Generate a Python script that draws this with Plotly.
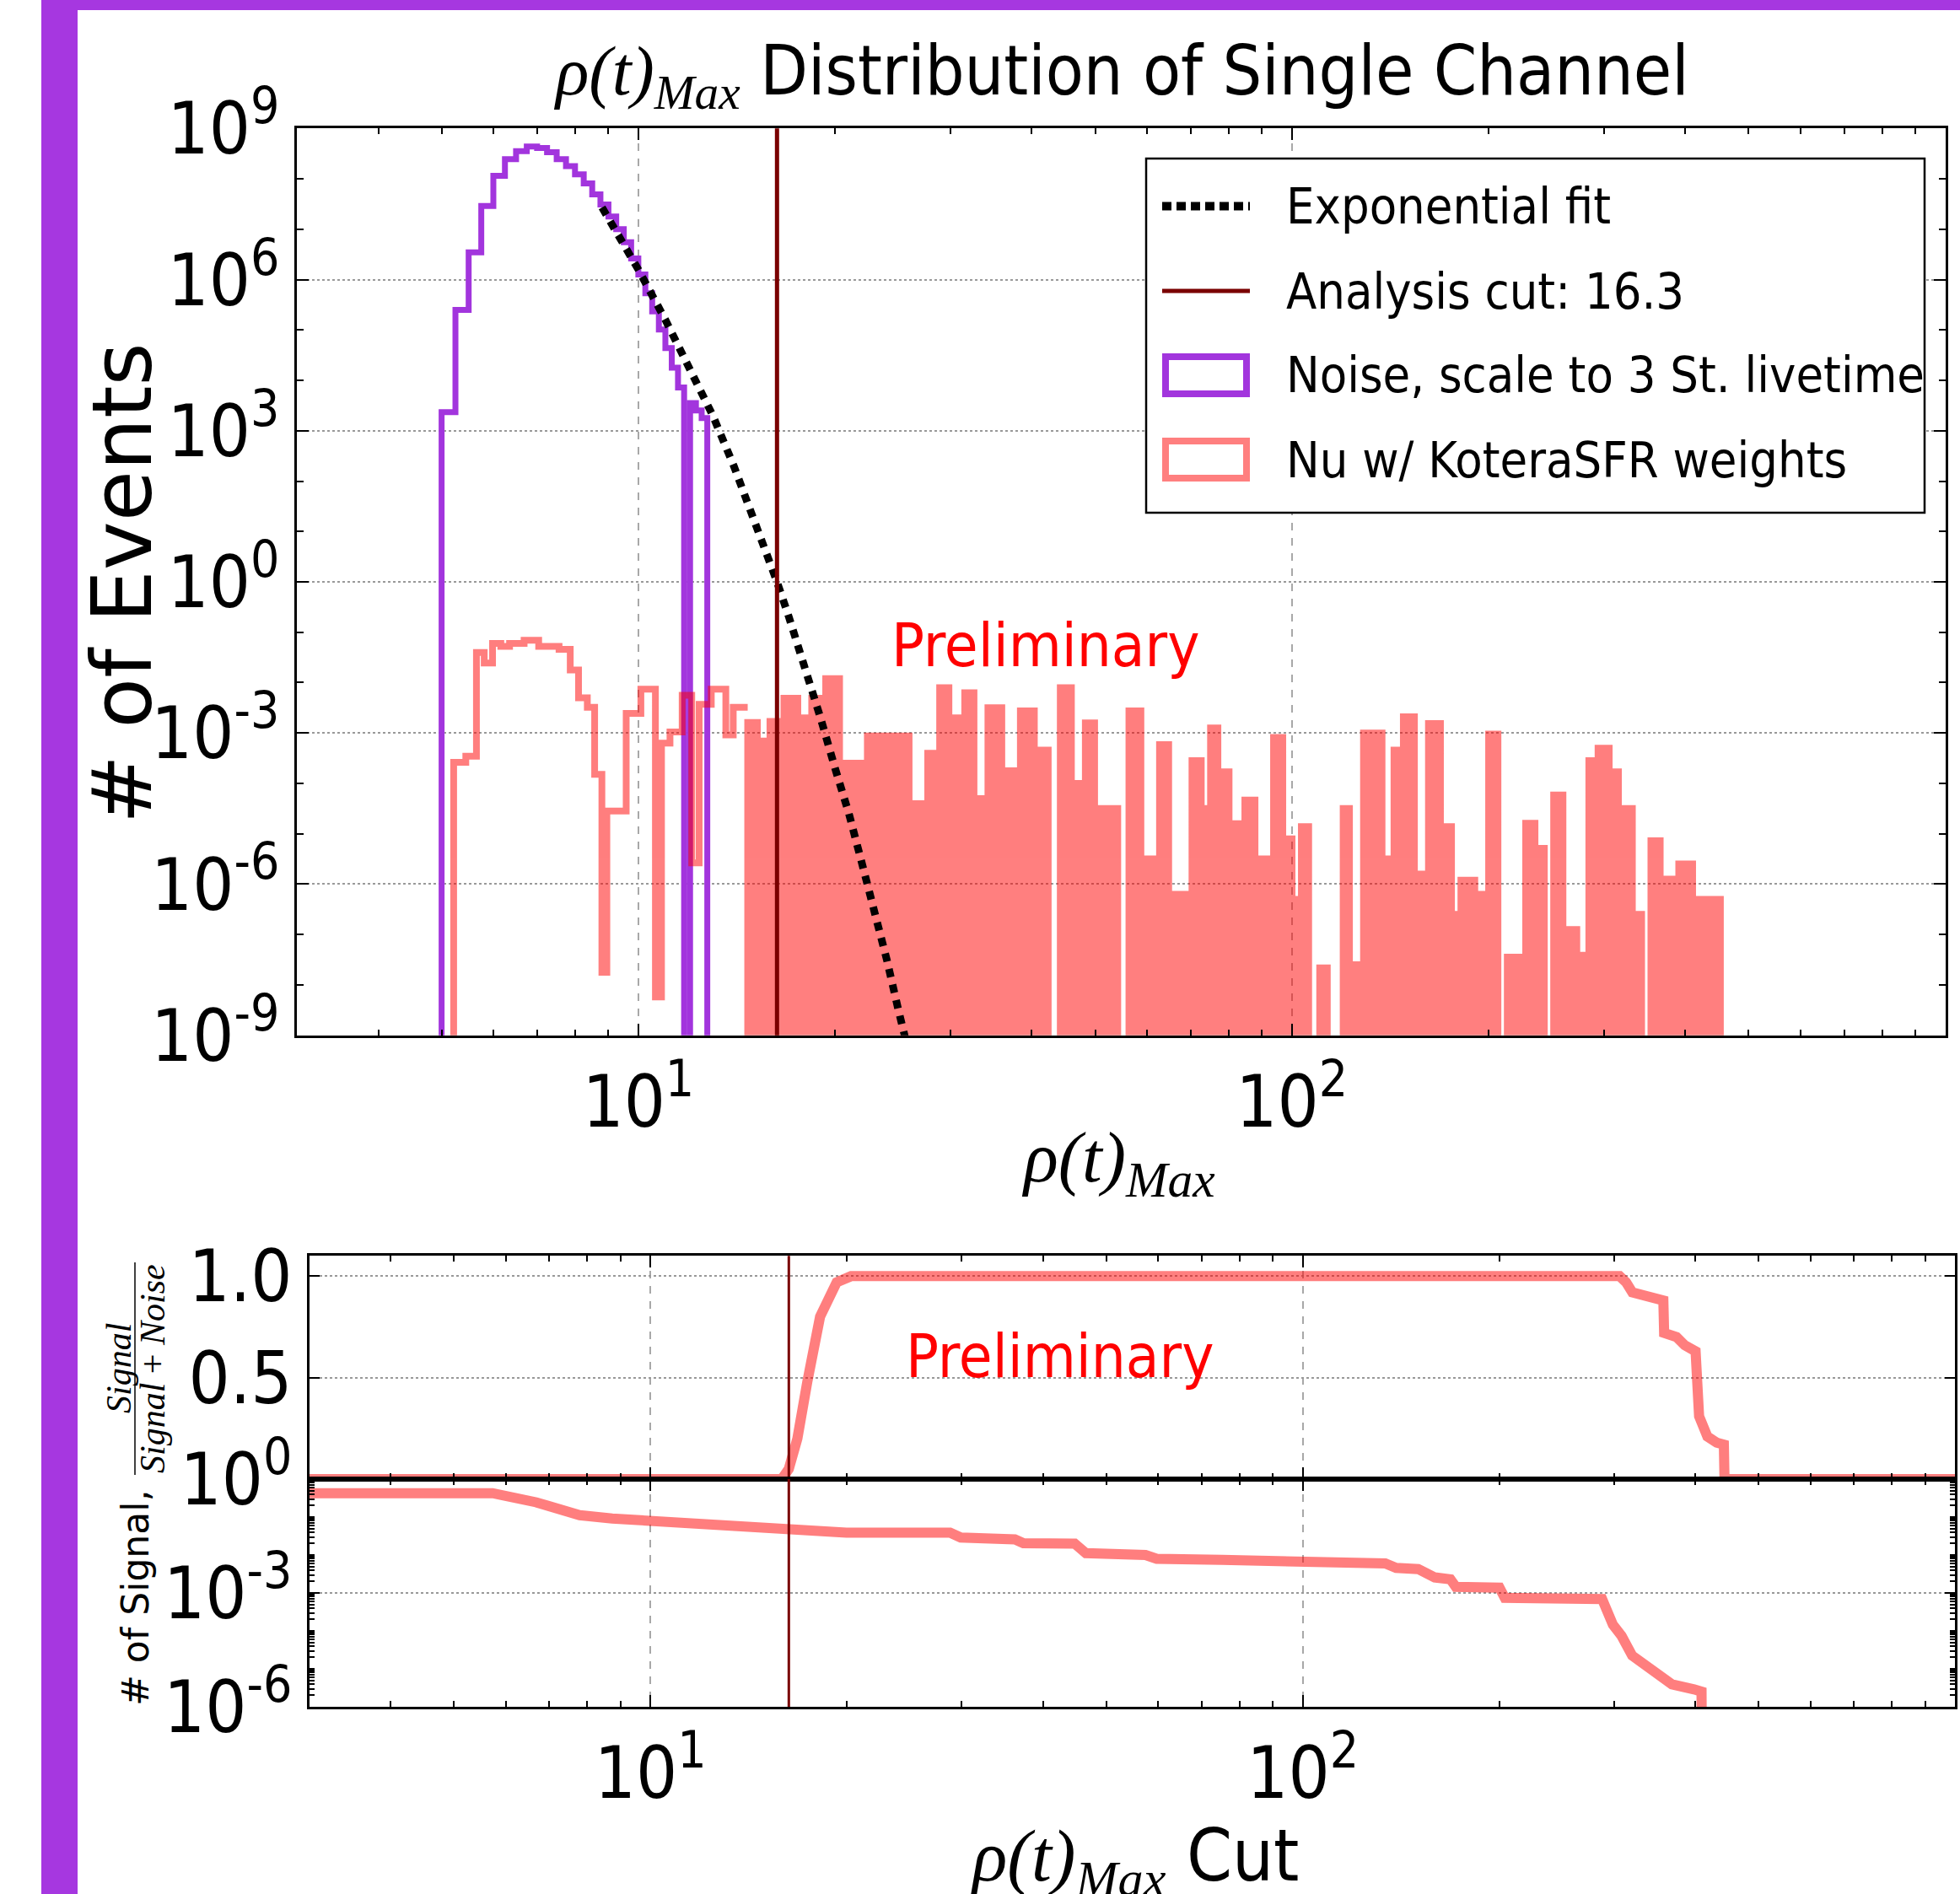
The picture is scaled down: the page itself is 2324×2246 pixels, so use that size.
import plotly.graph_objects as go
import math

W, H = 2324, 2246
SANS = "DejaVu Sans Condensed, Liberation Sans Narrow, DejaVu Sans"
SANS_N = "DejaVu Sans"
SERIF = "Liberation Serif, DejaVu Serif"
PURPLE = "#a235dd"
FRAME = "#a637e0"
CUTC = "#7a0000"
FLOOR = -12

CUT = 16.3

# ---- noise histogram (purple), bin edges and log10 counts
noise_edges = [5.0, 5.25, 5.5, 5.75, 6.0, 6.25, 6.5, 6.75, 7.0, 7.25, 7.5, 7.75, 8.0, 8.25,
               8.5, 8.75, 9.0, 9.25, 9.5, 9.75, 10.0, 10.25, 10.5, 10.75, 11.0, 11.25,
               11.5, 11.75, 12.0, 12.25, 12.5, 12.75]
noise_log = [3.37, 5.40, 6.54, 7.46, 8.06, 8.39, 8.55, 8.64, 8.61, 8.53, 8.39, 8.25, 8.09,
             7.91, 7.69, 7.49, 7.25, 7.00, 6.74, 6.42, 6.10, 5.73, 5.37, 5.01, 4.64, 4.25,
             3.86, None, 3.55, 3.40, 3.25]

# ---- neutrino histogram (red), low part (outline)
nuA_edges = [5.217, 5.445, 5.653, 5.810, 5.983, 6.160, 6.353, 6.687, 7.039, 7.563, 7.867,
             8.10, 8.355, 8.573, 8.795, 8.95, 9.101, 9.581, 10.09, 10.62, 10.85, 11.18,
             11.67, 12.07, 12.39, 12.93, 13.61, 13.97, 14.70]
nuA_log = [-3.58, -3.46, -1.40, -1.61, -1.22, -1.28, -1.22, -1.16, -1.28, -1.34, -1.75,
           -2.3, -2.49, -3.82, -7.75, -4.55, -4.55, -2.61, -2.13, -8.24, -3.2, -2.98,
           -2.25, -5.58, -2.43, -2.13, -3.04, -2.49]

# ---- neutrino histogram (red), dense part
nuB_edges = [14.70, 15.21, 15.9, 16.7, 17.54, 18.42, 19.35, 20.32, 22.41, 25.96, 27.72,
             28.91, 29.87, 31.58, 32.63, 34.27, 35.99, 38.42, 40.36, 42.38, 44.22, 45.99,
             48.3, 49.91, 54.15, 56.32, 58.75, 61.71, 62.73, 64.79, 70.33, 72.67, 75.08,
             77.06, 80.15, 84.18, 84.73, 87.82, 92.83, 93.74, 96.85, 100.07, 103.4, 106.1,
             110.3, 113.3, 119.8, 122.5, 128.7, 137.4, 143.3, 148.1, 154.0, 161.8, 168.8,
             175.5, 181.4, 190.5, 200.0, 206.7, 213.6, 227.9, 235.5, 243.4, 251.5, 259.9,
             272.9, 284.7, 294.1, 305.9, 316.0, 331.9, 342.9, 354.3, 366.1, 381.9, 390.8,
             410.4, 431.0, 452.6]
nuB_log = [-2.79, -3.16, -2.77, -2.31, -2.7, -2.31, -1.92, -3.6, -3.06, -4.4, -3.4, -2.1,
           -2.7, -2.2, -4.3, -2.5, -3.75, -2.56, -3.34, None, -2.1, -4.0, -2.8, -4.5, None,
           -2.56, -5.5, None, -3.23, -6.2, -3.55, -4.5, -2.9, -3.77, -4.8, None, -4.33,
           -5.5, None, -3.09, -5.1, -6.3, -4.86, None, -7.66, None, -4.5, -7.6, -3.0,
           -5.5, -3.34, -2.68, -5.8, -2.81, -4.86, -6.6, -5.92, -6.2, -3.02, None, -7.45,
           -4.79, -5.29, None, -4.23, -6.9, -7.41, -3.55, -3.3, -3.77, -4.5, -6.6, None,
           -5.14, -5.9, None, -5.6, -6.3, -6.3]

# ---- exponential fit
fit_x = [8.8, 10, 11, 12, 13, 14, 15, 16.3, 17, 18, 19, 20, 21, 22, 23, 24, 25, 26]
fit_log = [7.43, 6.2, 5.2, 4.25, 3.3, 2.3, 1.3, 0.0, -0.7, -1.7, -2.7, -3.7, -4.6, -5.6,
           -6.5, -7.5, -8.5, -9.4]

# ---- lower panels
sn_x = [3, 15.9, 16.3, 16.8, 17.4, 18.2, 19.3, 20.3, 306, 313, 320, 335, 357, 358, 374,
        385, 400, 405, 417, 431, 442, 443, 1000]
sn_y = [0, 0, 0.05, 0.2, 0.48, 0.8, 0.97, 1.0, 1.0, 0.97, 0.92, 0.90, 0.88, 0.72, 0.70,
        0.66, 0.63, 0.31, 0.21, 0.18, 0.17, 0, 0]

ns_x = [3.0, 5.73, 6.68, 7.79, 8.74, 11.44, 16.17, 19.97, 28.8, 29.9, 36.2, 37.3, 44.7,
        46.5, 57.4, 59.7, 75.2, 133.8, 139, 150.3, 159.3, 168.4, 171.6, 200.2, 204, 287.6,
        298.8, 308, 319.8, 334.6, 354.4, 368, 397.8, 408.5, 409]
ns_log = [-0.37, -0.37, -0.61, -0.95, -1.04, -1.16, -1.30, -1.41, -1.41, -1.54, -1.59,
          -1.69, -1.70, -1.95, -2.0, -2.10, -2.13, -2.22, -2.34, -2.37, -2.59, -2.64, -2.84,
          -2.86, -3.13, -3.16, -3.84, -4.13, -4.65, -4.91, -5.24, -5.41, -5.54, -5.6, -7]

x_ticks = [10, 100, 1000]
x_ticktext = ["10<sup>1</sup>", "10<sup>2</sup>", "10<sup>3</sup>"]
y_ticks_top = [-9, -6, -3, 0, 3, 6, 9]
y_ticks_low = [-6, -3, 0]
sn_ticks = [0.5, 1.0]


def step_xy(edges, logs, start_floor=True, end_floor=True):
    xs, ys = [], []
    if start_floor:
        xs.append(edges[0]); ys.append(10 ** FLOOR)
    for e, h in zip(edges[:-1], logs):
        xs.append(e); ys.append(10 ** (FLOOR if h is None else h))
    xs.append(edges[-1]); ys.append(ys[-1])
    if end_floor:
        xs.append(edges[-1]); ys.append(10 ** FLOOR)
    return xs, ys


assert len(noise_edges) == len(noise_log) + 1
assert len(nuA_edges) == len(nuA_log) + 1
assert len(nuB_edges) == len(nuB_log) + 1

fig = go.Figure()

nx, ny = step_xy(noise_edges, noise_log)
fig.add_trace(go.Scatter(x=nx, y=ny, mode="lines", line=dict(color=PURPLE, width=7, shape="hv"),
                         xaxis="x", yaxis="y", showlegend=False, hoverinfo="skip"))
ax_, ay_ = step_xy(nuA_edges, nuA_log, end_floor=False)
fig.add_trace(go.Scatter(x=ax_, y=ay_, mode="lines", line=dict(color="red", width=8, shape="hv"),
                         opacity=0.5, xaxis="x", yaxis="y", showlegend=False, hoverinfo="skip"))
bx_, by_ = step_xy(nuB_edges, nuB_log)
fig.add_trace(go.Scatter(x=bx_, y=by_, mode="lines", line=dict(color="red", width=8, shape="hv"),
                         fill="toself", fillcolor="red",
                         opacity=0.5, xaxis="x", yaxis="y", showlegend=False, hoverinfo="skip"))
fig.add_trace(go.Scatter(x=fit_x, y=[10 ** v for v in fit_log], mode="lines",
                         line=dict(color="black", width=9, dash="10px,9px"),
                         xaxis="x", yaxis="y", showlegend=False, hoverinfo="skip"))
fig.add_trace(go.Scatter(x=[CUT, CUT], y=[1e-12, 1e12], mode="lines",
                         line=dict(color=CUTC, width=5),
                         xaxis="x", yaxis="y", showlegend=False, hoverinfo="skip"))

fig.add_trace(go.Scatter(x=sn_x, y=sn_y, mode="lines", line=dict(color="red", width=12),
                         opacity=0.5, xaxis="x2", yaxis="y2", showlegend=False, hoverinfo="skip"))
fig.add_trace(go.Scatter(x=[CUT, CUT], y=[-1, 2], mode="lines", line=dict(color=CUTC, width=3),
                         xaxis="x2", yaxis="y2", showlegend=False, hoverinfo="skip"))
fig.add_trace(go.Scatter(x=ns_x, y=[10 ** v for v in ns_log], mode="lines",
                         line=dict(color="red", width=12),
                         opacity=0.5, xaxis="x3", yaxis="y3", showlegend=False, hoverinfo="skip"))
fig.add_trace(go.Scatter(x=[CUT, CUT], y=[1e-9, 10], mode="lines", line=dict(color=CUTC, width=3),
                         xaxis="x3", yaxis="y3", showlegend=False, hoverinfo="skip"))


def px(x):
    return x / W


def py(y):
    return 1 - y / H


def sup(n):
    return "10<sup>%d</sup>" % n


common = dict(showline=True, linecolor="black", linewidth=3, mirror="allticks",
              ticks="inside", tickcolor="black", tickwidth=2, zeroline=False, automargin=False,
              tickfont=dict(family=SANS, size=86, color="black"))
xcommon = dict(common, type="log", range=[math.log10(3), 3], tickmode="array",
               tickvals=x_ticks, ticktext=x_ticktext, ticklen=14,
               showgrid=True, gridcolor="#a8a8a8", gridwidth=1.5, griddash="dash",
               minor=dict(ticks="inside", ticklen=7, tickwidth=1.5, tickcolor="black",
                          dtick="D1", showgrid=False))

fig.update_layout(
    width=W, height=H, margin=dict(l=0, r=0, t=0, b=0, autoexpand=False),
    paper_bgcolor="white", plot_bgcolor="white",
    xaxis=dict(xcommon, domain=[px(351.7), px(2306.7)], anchor="y", ticklabelstandoff=2),
    yaxis=dict(common, type="log", range=[-9, 9], domain=[py(1227.7), py(152.3)], anchor="x",
               tickmode="array", tickvals=[10.0 ** v for v in y_ticks_top],
               ticktext=[sup(v) for v in y_ticks_top], ticklen=14, ticklabelstandoff=0,
               showgrid=True, gridcolor="#999999", gridwidth=2, griddash="dot",
               minor=dict(ticks="inside", ticklen=8, tickwidth=1.5, tickcolor="black",
                          dtick=1, showgrid=False)),
    xaxis2=dict(xcommon, domain=[px(366.7), px(2318.3)], anchor="y2", showticklabels=False),
    yaxis2=dict(common, type="linear", range=[0, 1.1], domain=[py(1754), py(1489.3)],
                anchor="x2", tickmode="array", tickvals=sn_ticks, ticktext=["0.5", "1.0"],
                ticklen=12, ticklabelstandoff=0,
                showgrid=True, gridcolor="#999999", gridwidth=2, griddash="dot"),
    xaxis3=dict(xcommon, domain=[px(366.7), px(2318.3)], anchor="y3", ticklabelstandoff=2),
    yaxis3=dict(common, type="log", range=[-6, 0], domain=[py(2024), py(1754)], anchor="x3",
                tickmode="array", tickvals=[10.0 ** v for v in y_ticks_low],
                ticktext=[sup(v) for v in y_ticks_low], ticklen=12, ticklabelstandoff=0,
                showgrid=True, gridcolor="#999999", gridwidth=2, griddash="dot",
                minor=dict(ticks="inside", ticklen=6, tickwidth=1.5, tickcolor="black",
                           dtick="D1", showgrid=False)),
)

RHO = "<i>ρ(t)</i><sub><i>Max</i></sub>"
ann = []


def add_ann(x, y, text, size, family=SANS, color="black", angle=0, xanchor="center"):
    ann.append(dict(x=px(x), y=py(y), xref="paper", yref="paper", showarrow=False,
                    xanchor=xanchor, yanchor="middle", text=text, textangle=angle,
                    font=dict(family=family, size=size, color=color)))


add_ann(1329, 89, '<span style="font-family:Liberation Serif">' + RHO + '</span> Distribution of Single Channel', 82)
add_ann(145, 692, "# of Events", 98, family=SANS_N, angle=-90)
add_ann(1326, 1378, RHO, 85, family=SERIF)
add_ann(1345, 2205, '<span style="font-family:Liberation Serif">' + RHO + '</span> Cut', 86)
add_ann(1239, 765, "Preliminary", 72, color="red")
add_ann(1256, 1608, "Preliminary", 72, color="red")
add_ann(160, 1895, "# of Signal,", 44, family=SANS_N, angle=-90)
add_ann(141, 1623, "<i>Signal</i>", 42, family=SERIF, angle=-90)
add_ann(181, 1623, "<i>Signal</i> + <i>Noise</i>", 42, family=SERIF, angle=-90)

legend_rows = [("Exponential fit", 244.5), ("Analysis cut: 16.3", 345),
               ("Noise, scale to 3 St. livetime", 444.6), ("Nu w/ KoteraSFR weights", 545.4)]
for label, yy in legend_rows:
    add_ann(1523, yy, label, 59, xanchor="left")

shapes = []
# purple slide frame
shapes.append(dict(type="rect", xref="paper", yref="paper", x0=px(49), x1=px(92), y0=0, y1=1,
                   line=dict(width=0), fillcolor=FRAME, layer="above"))
shapes.append(dict(type="rect", xref="paper", yref="paper", x0=px(49), x1=1, y0=py(12), y1=1,
                   line=dict(width=0), fillcolor=FRAME, layer="above"))
# fraction bar
shapes.append(dict(type="line", xref="paper", yref="paper", x0=px(160), x1=px(160),
                   y0=py(1749), y1=py(1497), line=dict(color="black", width=1.5)))
# legend
shapes.append(dict(type="rect", xref="paper", yref="paper", x0=px(1359), x1=px(2282),
                   y0=py(608), y1=py(188), line=dict(color="black", width=2.5),
                   fillcolor="white", layer="above"))
shapes.append(dict(type="line", xref="paper", yref="paper", x0=px(1378), x1=px(1482),
                   y0=py(244.5), y1=py(244.5), line=dict(color="black", width=10, dash="11px,6px")))
shapes.append(dict(type="line", xref="paper", yref="paper", x0=px(1378), x1=px(1482),
                   y0=py(345), y1=py(345), line=dict(color=CUTC, width=5)))
shapes.append(dict(type="rect", xref="paper", yref="paper", x0=px(1382), x1=px(1478),
                   y0=py(467), y1=py(423), line=dict(color=PURPLE, width=8)))
shapes.append(dict(type="rect", xref="paper", yref="paper", x0=px(1382), x1=px(1478),
                   y0=py(567), y1=py(523), line=dict(color="rgba(255,0,0,0.5)", width=8)))

fig.update_layout(annotations=ann, shapes=shapes)

fig.write_html("out.html", config={"displayModeBar": False},
               post_script="document.body.style.margin='0px';")
